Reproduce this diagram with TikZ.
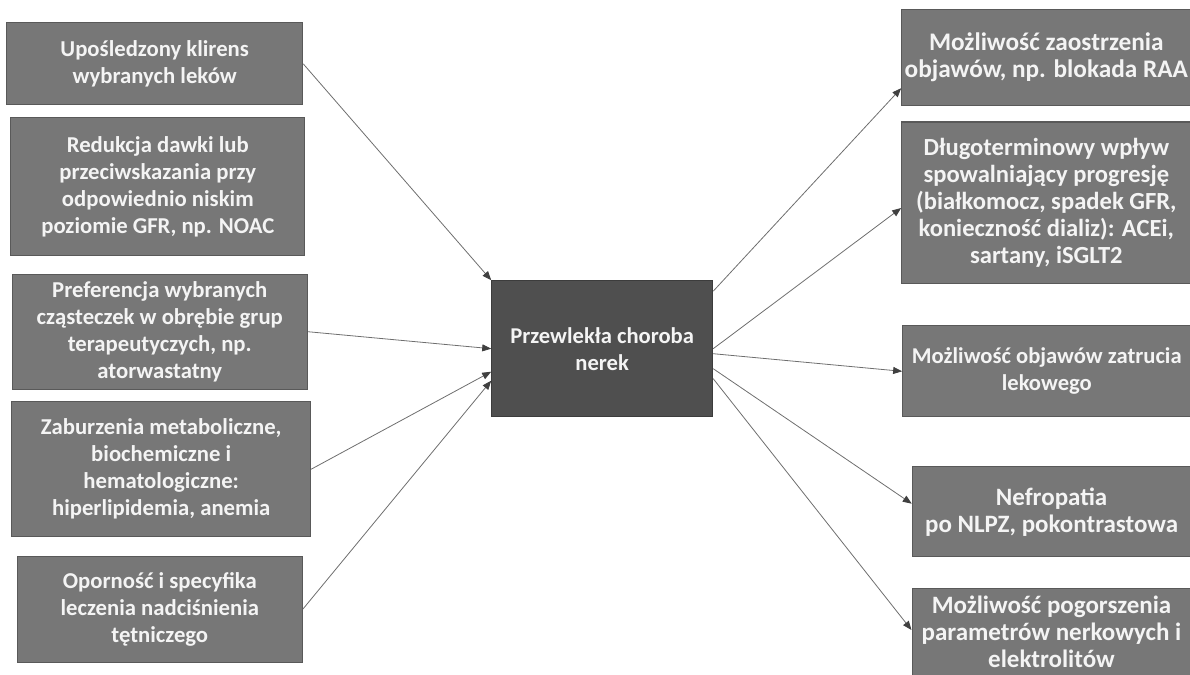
\documentclass[tikz,border=0pt]{standalone}
\usepackage{fontspec}
\setmainfont{Carlito}
\usetikzlibrary{arrows.meta}
\definecolor{boxfill}{HTML}{777777}
\definecolor{boxline}{HTML}{595959}
\definecolor{cfill}{HTML}{4F4F4F}
\definecolor{cline}{HTML}{3C3C3C}
\definecolor{txt}{HTML}{F4F4F4}
\definecolor{conn}{HTML}{6E6E6E}
\definecolor{tipc}{HTML}{404040}
\newcommand{\fs}[1]{\fontsize{#1}{27}\selectfont\bfseries}
\tikzset{
  sbox/.style={draw=boxline, fill=boxfill, line width=1pt, inner sep=0pt,
    text=txt, align=center, font=\fs{22.7}},
  cbox/.style={draw=cline, fill=cfill, line width=1pt, inner sep=0pt,
    text=txt, align=center, font=\fs{22.6}},
  link/.style={draw=conn, line width=0.8pt,
    -{Triangle[length=9pt,width=7pt,color=tipc,fill=tipc]}}
}
\begin{document}
\begin{tikzpicture}[x=1pt,y=-1pt]
\useasboundingbox (0,0) rectangle (1190,674);
% left boxes
\node[sbox, minimum width=296pt, minimum height=82pt] (L1) at (154.7,63.8)
  {Upośledzony klirens\\wybranych leków};
\node[sbox, minimum width=294pt, minimum height=137pt] (L2) at (157.8,186.5)
  {Redukcja dawki lub\\przeciwskazania przy\\odpowiednio niskim\\poziomie GFR, np. NOAC};
\node[sbox, minimum width=295pt, minimum height=115pt] (L3) at (159.8,331.7)
  {Preferencja wybranych\\cząsteczek w obrębie grup\\terapeutyczych, np.\\atorwastatny};
\node[sbox, minimum width=299pt, minimum height=135pt] (L4) at (161.2,469.2)
  {Zaburzenia metaboliczne,\\biochemiczne i\\hematologiczne:\\hiperlipidemia, anemia};
\node[sbox, minimum width=285pt, minimum height=106pt] (L5) at (159.8,609.2)
  {Oporność i specyfika\\leczenia nadciśnienia\\tętniczego};
% centre
\node[cbox, minimum width=221pt, minimum height=136pt] (C) at (602.2,348.7)
  {Przewlekła choroba\\nerek};
% right boxes
\node[sbox, font=\fs{25.3}, minimum width=289.3pt, minimum height=96pt] (R1) at (1046.3,57.2)
  {Możliwość zaostrzenia\\objawów, np. blokada RAA};
\node[sbox, font=\fs{24.6}, minimum width=289.3pt, minimum height=161pt] (R2) at (1046.3,202.5)
  {Długoterminowy wpływ\\spowalniający progresję\\(białkomocz, spadek GFR,\\konieczność dializ): ACEi,\\sartany, iSGLT2};
\node[sbox, font=\fs{22.6}, minimum width=288.3pt, minimum height=91pt] (R3) at (1046.8,371.3)
  {Możliwość objawów zatrucia\\lekowego};
\node[sbox, font=\fs{25}, minimum width=278.7pt, minimum height=90pt] (R4) at (1051.6,511.7)
  {Nefropatia\\po NLPZ, pokontrastowa};
\node[sbox, font=\fs{25}, minimum width=279pt, minimum height=88pt] (R5) at (1051.5,632)
  {Możliwość pogorszenia\\parametrów nerkowych i\\elektrolitów};
% connectors in
\draw[link] (L1.east) -- (C.north west);
\draw[link] (L3.east) -- (C.west);
\draw[link] (L4.east) -- ([yshift=-23pt]C.west);
\draw[link] (L5.east) -- ([yshift=-32pt]C.west);
% connectors out
\draw[link] ([yshift=-11pt]C.north east) -- ([yshift=-31pt]R1.west);
\draw[link] (C.east) -- ([yshift=-5.5pt]R2.west);
\draw[link] ([yshift=-5pt]C.east) -- (R3.west);
\draw[link] ([yshift=-20pt]C.east) -- ([yshift=8pt]R4.west);
\draw[link] ([yshift=-30pt]C.east) -- ([yshift=2pt]R5.west);
\end{tikzpicture}
\end{document}
